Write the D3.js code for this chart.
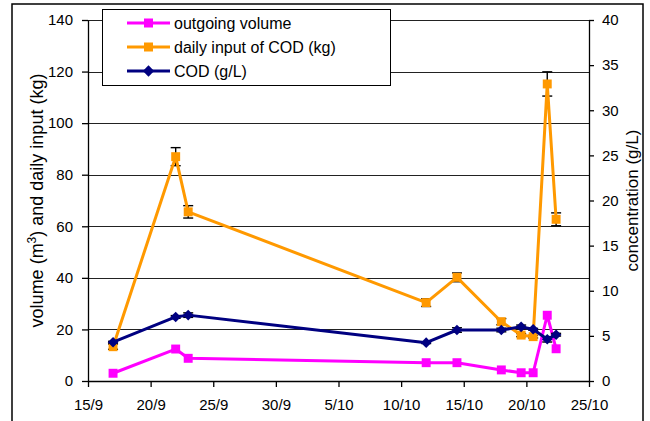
<!DOCTYPE html>
<html><head><meta charset="utf-8">
<script src="https://cdn.jsdelivr.net/npm/d3@7"></script>
<style>body{margin:0;background:#fff} text{font-family:"Liberation Sans",Arial,sans-serif}</style>
</head><body><svg id="c" width="650" height="421"></svg>
<script>
// ---- data ----
const dates = ["2006-09-17 00:00","2006-09-22 00:00","2006-09-23 00:00","2006-10-12 00:00","2006-10-14 11:00",
               "2006-10-18 00:00","2006-10-19 14:00","2006-10-20 13:00","2006-10-21 16:00","2006-10-22 09:00"];
const outgoingVolume = [3.0, 12.4, 8.8, 7.1, 7.1, 4.3, 3.2, 3.2, 25.5, 12.5];
const dailyInputCOD  = [13.3, 87.0, 65.6, 30.4, 40.2, 23.0, 17.8, 17.2, 115.2, 62.7];
const dailyInputErr  = [1.0, 3.5, 2.4, 1.5, 1.7, 1.2, 0.6, 0.5, 4.7, 2.5];
const codConc        = [4.3, 7.1, 7.3, 4.25, 5.65, 5.65, 6.0, 5.73, 4.62, 5.13];
const codErr         = [0.1, 0.15, 0.25, 0.1, 0.25, 0.2, 0.2, 0.1, 0.3, 0.15];
const xTickDates = ["2006-09-15","2006-09-20","2006-09-25","2006-09-30","2006-10-05","2006-10-10","2006-10-15","2006-10-20","2006-10-25"];
const leftTicks  = [0,20,40,60,80,100,120,140];
const rightTicks = [0,5,10,15,20,25,30,35,40];
const seriesNames = ["outgoing volume","daily input of COD (kg)","COD (g/L)"];
const seriesColors = ["#FF00FF","#FF9900","#000080"];

// ---- layout ----
const L = 88, R = 589, T = 20, B = 381;
const parse = d3.utcParse("%Y-%m-%d %H:%M");
const parseD = d3.utcParse("%Y-%m-%d");
const xs = dates.map(parse);
const tickD = xTickDates.map(parseD);

const svg = d3.select("#c");
svg.append("rect").attr("x",12).attr("y",4).attr("width",631).attr("height",440)
   .attr("fill","#fff").attr("stroke","#000").attr("stroke-width",1.5);

const x = d3.scaleUtc().domain([tickD[0], tickD[tickD.length-1]]).range([L,R]);
const yL = d3.scaleLinear().domain([0,140]).range([B,T]);
const yR = d3.scaleLinear().domain([0,40]).range([B,T]);

// gridlines
svg.append("g").selectAll("line").data(leftTicks.filter(d=>d>0)).join("line")
  .attr("x1",L).attr("x2",R).attr("y1",d=>Math.round(yL(d))+0.5).attr("y2",d=>Math.round(yL(d))+0.5)
  .attr("stroke","#222").attr("stroke-width",1);

function styleAxis(g){
  g.select(".domain").attr("stroke","#000").attr("stroke-width",1.3);
  g.selectAll(".tick line").attr("stroke","#000").attr("stroke-width",1.3);
  g.selectAll("text").attr("font-size",15).attr("fill","#000").attr("font-family",'"Liberation Sans",Arial,sans-serif');
}
svg.append("g").attr("transform",`translate(${L},0)`)
  .call(d3.axisLeft(yL).tickValues(leftTicks).tickSize(6).tickPadding(9).tickSizeOuter(0)).call(styleAxis);
svg.append("g").attr("transform",`translate(${R},0)`)
  .call(d3.axisRight(yR).tickValues(rightTicks).tickSize(5).tickPadding(8).tickSizeOuter(0)).call(styleAxis);
svg.append("g").attr("transform",`translate(0,${B})`)
  .call(d3.axisBottom(x).tickValues(tickD).tickFormat(d3.utcFormat("%-d/%-m")).tickSize(6).tickPadding(12).tickSizeOuter(0)).call(styleAxis);

// axis titles
const lt = svg.append("text").attr("transform",`translate(43,${(T+B)/2}) rotate(-90)`)
  .attr("text-anchor","middle").attr("font-size",18).attr("fill","#000");
lt.append("tspan").text("volume (m");
lt.append("tspan").attr("baseline-shift","super").attr("font-size",12).text("3");
lt.append("tspan").text(") and daily input (kg)");
svg.append("text").attr("transform",`translate(638,${(T+B)/2}) rotate(-90)`)
  .attr("text-anchor","middle").attr("font-size",17).attr("fill","#000").text("concentration (g/L)");

// series
function errBars(vals, errs, y){
  const g = svg.append("g").attr("stroke","#000").attr("stroke-width",1.4);
  vals.forEach((v,i)=>{
    const cx = x(xs[i]), y1 = y(v+errs[i]), y2 = y(v-errs[i]);
    g.append("line").attr("x1",cx).attr("x2",cx).attr("y1",y1).attr("y2",y2);
    g.append("line").attr("x1",cx-5).attr("x2",cx+5).attr("y1",y1).attr("y2",y1);
    g.append("line").attr("x1",cx-5).attr("x2",cx+5).attr("y1",y2).attr("y2",y2);
  });
}
function lineSeries(vals, y, color, shape){
  svg.append("path").datum(vals).attr("fill","none").attr("stroke",color).attr("stroke-width",3)
    .attr("stroke-linejoin","round")
    .attr("d", d3.line().x((d,i)=>x(xs[i])).y(d=>y(d)));
  const sym = d3.symbol().type(shape === "square" ? d3.symbolSquare : d3.symbolDiamond2).size(shape==="square"?80:70);
  svg.append("g").selectAll("path").data(vals).join("path")
    .attr("transform",(d,i)=>`translate(${x(xs[i])},${y(d)})${shape==="square"?"":" rotate(45)"}`)
    .attr("d", shape==="square" ? sym : d3.symbol().type(d3.symbolSquare).size(56))
    .attr("fill",color);
}
lineSeries(outgoingVolume, yL, seriesColors[0], "square");
errBars(dailyInputCOD, dailyInputErr, yL);
lineSeries(dailyInputCOD, yL, seriesColors[1], "square");
errBars(codConc, codErr, yR);
lineSeries(codConc, yR, seriesColors[2], "diamond");

// legend
const lg = svg.append("g");
lg.append("rect").attr("x",102.5).attr("y",9.5).attr("width",288).attr("height",76)
  .attr("fill","#fff").attr("stroke","#000").attr("stroke-width",1);
seriesNames.forEach((n,i)=>{
  const yy = 23 + i*24;
  lg.append("line").attr("x1",127).attr("x2",170).attr("y1",yy).attr("y2",yy)
    .attr("stroke",seriesColors[i]).attr("stroke-width",3);
  if(i<2) lg.append("rect").attr("x",144).attr("y",yy-4.5).attr("width",9).attr("height",9).attr("fill",seriesColors[i]);
  else lg.append("rect").attr("x",-4).attr("y",-4).attr("width",8).attr("height",8)
          .attr("transform",`translate(148.5,${yy}) rotate(45)`).attr("fill",seriesColors[i]);
  lg.append("text").attr("x",174).attr("y",yy+5.5).attr("font-size",16).attr("fill","#000").text(n);
});
</script></body></html>
